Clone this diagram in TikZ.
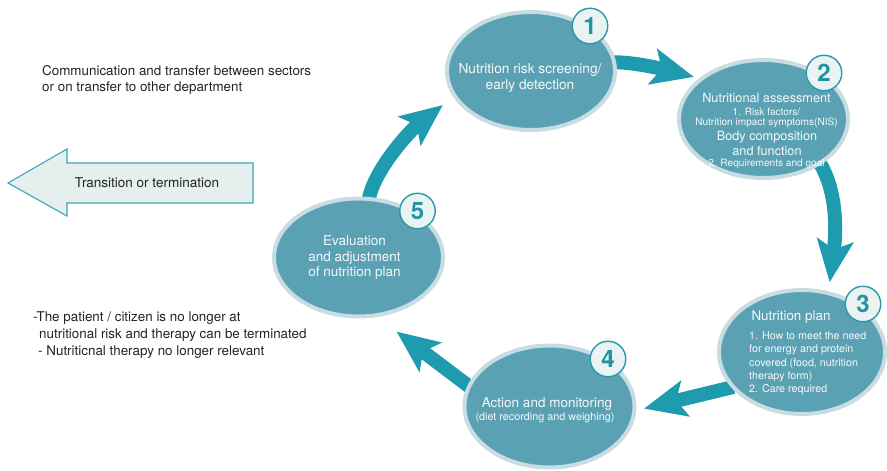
\documentclass[tikz,border=0pt]{standalone}
\usepackage{fontspec}
\setmainfont{TeX Gyre Heros}
\usetikzlibrary{arrows.meta,shapes.geometric}

\definecolor{cellfill}{RGB}{91,161,180}
\definecolor{cellrim}{RGB}{200,220,227}
\definecolor{flow}{RGB}{31,155,176}
\definecolor{badgefill}{RGB}{232,243,242}
\definecolor{badgeline}{RGB}{40,152,170}
\definecolor{badgenum}{RGB}{34,146,164}
\definecolor{ink}{RGB}{35,35,35}
\definecolor{exitfill}{RGB}{228,239,238}
\definecolor{exitline}{RGB}{58,166,185}
\definecolor{celltext}{RGB}{245,249,250}

\pgfdeclarelayer{behind}
\pgfsetlayers{behind,main}

\newcommand{\fs}[2]{\fontsize{#1}{#2}\selectfont}

\begin{document}
\begin{tikzpicture}[x=1pt,y=-1pt,
  cell/.style={ellipse, fill=cellfill, draw=cellrim, line width=4pt,
    minimum width=168pt, minimum height=118pt, inner sep=0pt, outer sep=0pt},
  badge/.style={circle, fill=badgefill, draw=badgeline, line width=1.4pt,
    minimum size=35.5pt, inner sep=0pt, text=badgenum,
    font=\fs{24}{24}\bfseries},
  flowarrow/.style={draw=flow, line width=14pt,
    -{Stealth[length=42pt,width=36pt,inset=9pt]}},
  celltxt/.style={text=celltext, inner sep=0pt, align=center},
  sidetxt/.style={text=ink, inner sep=0pt, align=left, font=\fs{13.4}{16}},
]
\useasboundingbox (0,0) rectangle (887,471);

% the five steps of the cycle
\node[cell] (e1) at (531,71) {};
\node[cell, minimum width=169pt] (e2) at (763.5,119) {};
\node[cell, minimum width=166pt, minimum height=124pt] (e3) at (802,352) {};
\node[cell, minimum width=170pt, minimum height=122pt] (e4) at (549.5,406.5) {};
\node[cell, minimum width=169pt] (e5) at (358.5,257.5) {};

% arrows between the steps, kept behind the ellipses
\begin{pgfonlayer}{behind}
  \draw[flowarrow, shorten >=8pt] (e1.6) .. controls +(25,0) and +(-28,-7) .. (e2.147);
  \draw[flowarrow, shorten >=11pt] (e2.-38) .. controls +(18,30) and +(8,-60) .. (e3.66);
  \draw[flowarrow, shorten >=10pt] (e3.207) -- (e4.-3);
  \draw[flowarrow, shorten >=27pt] (e4.166) -- (e5.-74);
  \draw[flowarrow, shorten >=15pt] (e5.80) .. controls +(6,-30) and +(-45,35) .. (e1.198);
\end{pgfonlayer}

% step numbers
\node[badge] (b1) at (590,26) {1};
\node[badge] (b2) at (824,73) {2};
\node[badge] (b3) at (863,304) {3};
\node[badge] (b4) at (608,359) {4};
\node[badge] (b5) at (417.5,211) {5};

% texts inside the steps
\node[celltxt, font=\fs{13.7}{16}] (t1) at (530,78) {Nutrition risk screening/\\early detection};

\node[celltxt, font=\fs{12.7}{14}] (t2a) at (766.5,98) {Nutritional assessment};
\node[celltxt, font=\fs{10.1}{12}] (t2b) at (766.5,112) {1. Risk factors/};
\node[celltxt, font=\fs{10.1}{12}] (t2c) at (766.5,123) {Nutrition impact symptoms(NIS)};
\node[celltxt, font=\fs{12.7}{14}] (t2d) at (767,137) {Body composition};
\node[celltxt, font=\fs{12.7}{14}] (t2e) at (767,151) {and function};
\node[celltxt, font=\fs{10.1}{12}] (t2f) at (766.5,164) {2. Requirements and goal};

\node[celltxt, font=\fs{13.4}{16}] (t3a) at (791,317) {Nutrition plan};
\node[celltxt, align=left, anchor=west, font=\fs{10.7}{13.25}] (t3b) at (749,363.5)
  {1. How to meet the need\\for energy and protein\\covered (food, nutrition\\therapy form)\\2. Care required};

\node[celltxt, font=\fs{13.5}{16}] (t4a) at (547,404) {Action and monitoring};
\node[celltxt, font=\fs{10.8}{13}] (t4b) at (545,418) {(diet recording and weighing)};

\node[celltxt, font=\fs{13.5}{15.5}] (t5) at (354.5,258) {Evaluation\\and adjustment\\of nutrition plan};

% exit arrow on the left
\draw[fill=exitfill, draw=exitline, line width=1.1pt, line join=miter]
  (8,183) -- (67,149) -- (67,163) -- (253,163) -- (253,203) -- (67,203) -- (67,216) -- cycle;
\node[text=ink, inner sep=0pt, font=\fs{13.5}{16}] (exit) at (147,183) {Transition or termination};

% notes beside the cycle
\node[sidetxt, anchor=west] (note1) at (42,80)
  {Communication and transfer between sectors\\or on transfer to other department};
\node[sidetxt, anchor=west, font=\fs{13.4}{17}] (note2) at (33,335)
  {-The patient / citizen is no longer at\\\hspace*{6pt}nutritional risk and therapy can be terminated\\\hspace*{5pt}- Nutriticnal therapy no longer relevant};
\end{tikzpicture}
\end{document}
